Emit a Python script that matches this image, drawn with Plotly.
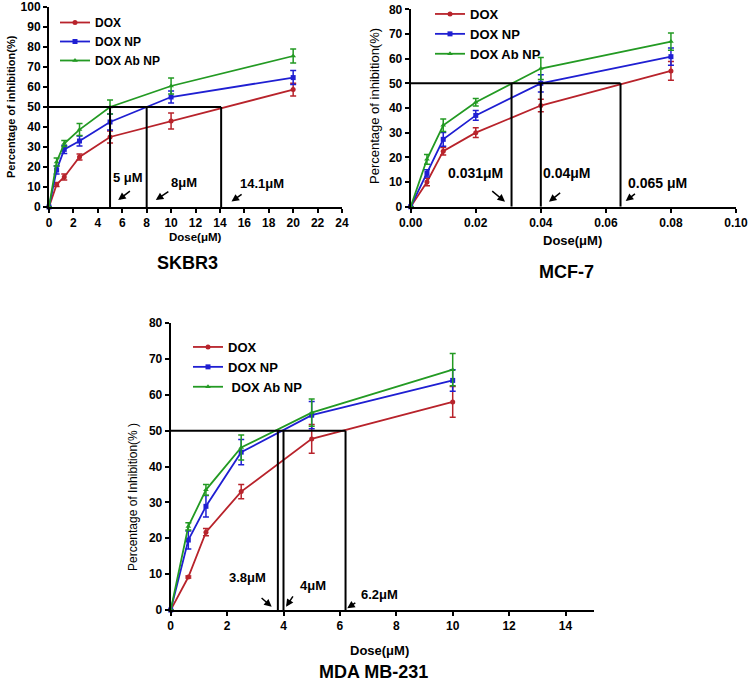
import plotly.graph_objects as go

W, H = 753, 685

# ---------------- data ----------------
series_names = ["DOX", "DOX NP", "DOX Ab NP"]

skbr3_dose = [0, 0.625, 1.25, 2.5, 5, 10, 20]
skbr3_dox = [0, 11.3, 15, 25, 35, 43, 58.7]
skbr3_dox_err = [0, 1, 1.5, 1.5, 3, 4, 3.2]
skbr3_np = [0, 18.5, 28.8, 33, 42.5, 55, 64.7]
skbr3_np_err = [0, 2, 2, 2.5, 4, 3, 3.5]
skbr3_ab = [0, 22.5, 31.7, 38.7, 50, 60.5, 75.5]
skbr3_ab_err = [0, 2, 1.5, 3, 3.5, 4, 3.5]
skbr3_ic50 = [5, 8, 14.1]
skbr3_labels = ["5 μM", "8μM", "14.1μM"]

mcf_dose = [0, 0.005, 0.01, 0.02, 0.04, 0.08]
mcf_dox = [0, 10, 22.5, 30, 41, 55]
mcf_dox_err = [0, 1.5, 1.5, 2, 2.5, 3.8]
mcf_np = [0, 13.5, 27.3, 37, 50, 60.8]
mcf_np_err = [0, 1.5, 2.8, 2, 3.5, 3.5]
mcf_ab = [0, 19.2, 33, 42.3, 56, 66.9]
mcf_ab_err = [0, 2, 2.5, 1.5, 4.5, 3.5]
mcf_ic50 = [0.031, 0.04, 0.0645]
mcf_labels = ["0.031μM", "0.04μM", "0.065 μM"]

mda_dose = [0, 0.625, 1.25, 2.5, 5, 10]
mda_dox = [0, 9.2, 21.7, 33, 47.7, 58]
mda_dox_err = [0, 0.3, 1, 2, 4, 4.3]
mda_np = [0, 19.5, 28.9, 44, 54.3, 64]
mda_np_err = [0, 2.5, 3, 3.5, 3.8, 3]
mda_ab = [0, 23.3, 33.5, 45.3, 55, 67]
mda_ab_err = [0, 1, 1.5, 3.5, 3.8, 4.5]
mda_ic50 = [3.8, 4.0, 6.2]
mda_labels = ["3.8μM", "4μM", "6.2μM"]

colors = ["#B8232B", "#1F1FD2", "#239A23"]
symbols = ["circle", "square", "triangle-up"]
FONT = "Arial, Liberation Sans, sans-serif"

def fx(px):
    return px / W

def fy(py):
    return 1 - py / H

def px_x(a, b):
    return [fx(a), fx(b)]

def px_y(top, bottom):
    return [fy(bottom), fy(top)]

fig = go.Figure()

panels = [
    dict(xa="x", ya="y", leg="legend", dose=skbr3_dose,
         ys=[skbr3_dox, skbr3_np, skbr3_ab], errs=[skbr3_dox_err, skbr3_np_err, skbr3_ab_err],
         names=["DOX", "DOX NP", "DOX Ab NP"]),
    dict(xa="x2", ya="y2", leg="legend2", dose=mcf_dose,
         ys=[mcf_dox, mcf_np, mcf_ab], errs=[mcf_dox_err, mcf_np_err, mcf_ab_err],
         names=["DOX", "DOX NP", "DOX Ab NP"]),
    dict(xa="x3", ya="y3", leg="legend3", dose=mda_dose,
         ys=[mda_dox, mda_np, mda_ab], errs=[mda_dox_err, mda_np_err, mda_ab_err],
         names=["DOX", "DOX NP", " DOX Ab NP"]),
]

for p in panels:
    for i in range(3):
        fig.add_trace(go.Scatter(
            x=p["dose"], y=p["ys"][i], name=p["names"][i],
            xaxis=p["xa"], yaxis=p["ya"], legend=p["leg"],
            mode="lines+markers",
            line=dict(color=colors[i], width=1.8),
            marker=dict(symbol=symbols[i], size=5, color=colors[i]),
            error_y=dict(type="data", array=p["errs"][i], visible=True,
                         color=colors[i], thickness=1.5, width=3),
            cliponaxis=False,
        ))

axis_common = dict(showgrid=False, zeroline=False, showline=True, linecolor="black",
                   linewidth=2, ticks="outside", ticklen=4, tickwidth=2, tickcolor="black",
                   tickfont=dict(family=FONT, size=12, color="black", weight="bold"))

fig.update_layout(
    width=W, height=H, margin=dict(l=0, r=0, t=0, b=0, autoexpand=False),
    paper_bgcolor="white", plot_bgcolor="white",
    xaxis=dict(domain=px_x(49, 342), range=[0, 24], dtick=2, anchor="y", **axis_common),
    yaxis=dict(domain=px_y(7, 207), range=[0, 100], dtick=10, anchor="x", **axis_common),
    xaxis2=dict(domain=px_x(410.7, 736), range=[0, 0.1], dtick=0.02, tickformat=".2f",
                anchor="y2", **axis_common),
    yaxis2=dict(domain=px_y(9.3, 206.7), range=[0, 80], dtick=10, anchor="x2", **axis_common),
    xaxis3=dict(domain=px_x(170.7, 593.7), range=[0, 15], tickvals=list(range(0, 16, 2)),
                anchor="y3", **axis_common),
    yaxis3=dict(domain=px_y(323, 610), range=[0, 80], dtick=10, anchor="x3", **axis_common),
    showlegend=True,
)

leg_common = dict(xanchor="left", yanchor="top", bgcolor="rgba(0,0,0,0)", borderwidth=0)
fig.update_layout(
    legend=dict(x=fx(55), y=fy(8), font=dict(family=FONT, size=12, color="black", weight="bold"),
                **leg_common),
    legend2=dict(x=fx(430), y=fy(-1), font=dict(family=FONT, size=13, color="black", weight="bold"),
                 **leg_common),
    legend3=dict(x=fx(188), y=fy(332), font=dict(family=FONT, size=13, color="black", weight="bold"),
                 **leg_common),
)

# IC50 reference lines
shapes = []
for xa, ya, vals in [("x", "y", skbr3_ic50), ("x2", "y2", mcf_ic50), ("x3", "y3", mda_ic50)]:
    shapes.append(dict(type="line", xref=xa, yref=ya, x0=0, x1=max(vals), y0=50, y1=50,
                       line=dict(color="black", width=2)))
    for v in vals:
        shapes.append(dict(type="line", xref=xa, yref=ya, x0=v, x1=v, y0=0, y1=50,
                           line=dict(color="black", width=2)))
fig.update_layout(shapes=shapes)

ann = []
# label text positions & arrows (data coords of each panel)
label_specs = [
    ("x", "y", skbr3_labels, [(6.46, 14.5), (11.05, 12), (17.47, 11.5)],
     [((6.75, 8.5), (5.67, 3.5)), ((9.9, 8.2), (8.75, 3.5)), ((15.9, 6.8), (14.95, 2.7))], 13),
    ("x2", "y2", mcf_labels, [(0.0200, 13.5), (0.0479, 13.8), (0.0759, 9.7)],
     [((0.0246, 6.8), (0.029, 2.0)), ((0.0464, 6.1), (0.0425, 2.0)), ((0.0694, 5.7), (0.0661, 2.3))], 14),
    ("x3", "y3", mda_labels, [(2.71, 9.1), (5.03, 6.7), (7.39, 4.2)],
     [((3.17, 3.7), (3.58, 0.9)), ((4.37, 4.2), (4.09, 0.9)), ((6.6, 2.3), (6.26, 0.5))], 13),
]
for xa, ya, labels, tpos, arrows, fs in label_specs:
    for lab, (tx, ty), ((ax, ay), (hx, hy)) in zip(labels, tpos, arrows):
        ann.append(dict(xref=xa, yref=ya, x=tx, y=ty, text=lab, showarrow=False,
                        font=dict(family=FONT, size=fs, color="black", weight="bold")))
        ann.append(dict(xref=xa, yref=ya, x=hx, y=hy, ax=ax, ay=ay, axref=xa, ayref=ya,
                        text="", showarrow=True, arrowhead=2, arrowsize=1, arrowwidth=1.5,
                        arrowcolor="black", standoff=0))

def ptext(x, y, text, size, bold=True, angle=0):
    return dict(xref="paper", yref="paper", x=fx(x), y=fy(y), text=text, showarrow=False,
                xanchor="center", yanchor="middle", textangle=angle,
                font=dict(family=FONT, size=size, color="black", weight="bold" if bold else "normal"))

ann += [
    ptext(11, 107, "Percentage of inhibition(%)", 11, True, -90),
    ptext(375, 106, "Percentage of inhibition(%)", 13, False, -90),
    ptext(133, 497, "Percentage of Inhibition(% )", 12, False, -90),
    ptext(195, 237, "Dose(μM)", 11.5, True),
    ptext(572, 241, "Dose(μM)", 13, True),
    ptext(379, 650, "Dose(μM)", 13, True),
    ptext(187, 263, "SKBR3", 18, True),
    ptext(566, 272, "MCF-7", 18, True),
    ptext(373, 672, "MDA MB-231", 18, True),
]
fig.update_layout(annotations=ann)

fig.write_html("out.html", config={"displayModeBar": False},
               post_script="document.body.style.margin='0';document.body.style.overflow='hidden';")
